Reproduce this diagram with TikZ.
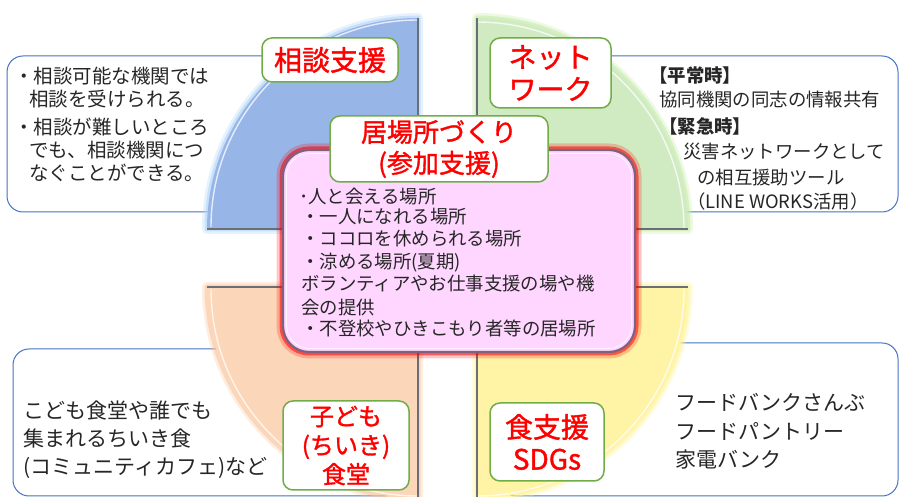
\documentclass[tikz,border=0pt]{standalone}
\usepackage{fontspec}
\setmainfont{Noto Sans CJK JP}
\newfontfamily\jpmed[FakeBold=1.4]{Noto Sans CJK JP}
\definecolor{qblue}{RGB}{152,181,232}
\definecolor{qgreen}{RGB}{208,235,194}
\definecolor{qorange}{RGB}{252,214,184}
\definecolor{qyellow}{RGB}{255,243,166}
\definecolor{gblue}{RGB}{175,212,250}
\definecolor{ggreen}{RGB}{196,236,165}
\definecolor{gorange}{RGB}{252,196,156}
\definecolor{gyellow}{RGB}{255,245,150}
\definecolor{pinkf}{RGB}{255,214,255}
\definecolor{bborder}{RGB}{68,114,196}
\definecolor{gborder}{RGB}{112,173,71}
\definecolor{txt}{RGB}{38,38,38}
\definecolor{bevel}{RGB}{105,110,120}
\tikzset{
  tbox/.style={draw=bborder, line width=1pt, fill=white, rounded corners=16pt},
  lab/.style={draw=gborder, line width=1.5pt, fill=white, rounded corners=10pt,
    inner sep=0pt, text=red, align=center},
  tl/.style={anchor=base west, inner sep=0pt, text=txt},
  glowa/.style={line width=10pt, opacity=0.3, line join=round},
  glowb/.style={line width=5pt, opacity=0.55, line join=round},
  edge/.style={draw=bevel, line width=1.6pt},
  hilite/.style={draw=white, line width=1.4pt, opacity=0.75},
}
\newcommand\fa{\fontsize{19.5pt}{23pt}\selectfont}
\newcommand\fb{\fontsize{18.4pt}{22pt}\selectfont}
\newcommand\fc{\fontsize{21pt}{28pt}\selectfont}
\begin{document}
\begin{tikzpicture}[x=1pt,y=1pt]
\useasboundingbox (0,0) rectangle (899,497);
\fill[white] (0,0) rectangle (899,497);

% outer text boxes
\draw[tbox] (7,285) rectangle (400,441);
\draw[tbox] (500,285) rectangle (898,441);
\draw[tbox] (13,1) rectangle (400,148);
\draw[tbox] (500,1) rectangle (898,154);

% blue quarter (upper left)
\draw[glowa, draw=gblue] (418,268) -- (207,268) arc[start angle=180,end angle=90,radius=211] -- cycle;
\draw[glowb, draw=gblue] (418,268) -- (207,268) arc[start angle=180,end angle=90,radius=211] -- cycle;
\fill[qblue] (418,268) -- (207,268) arc[start angle=180,end angle=90,radius=211] -- cycle;
\draw[hilite] (211,270) arc[start angle=180,end angle=90,radius=207];
\draw[edge] (207,268) -- (418,268) -- (418,479);

% green quarter (upper right)
\draw[glowa, draw=ggreen] (477,268) -- (477,479) arc[start angle=90,end angle=0,radius=211] -- cycle;
\draw[glowb, draw=ggreen] (477,268) -- (477,479) arc[start angle=90,end angle=0,radius=211] -- cycle;
\fill[qgreen] (477,268) -- (477,479) arc[start angle=90,end angle=0,radius=211] -- cycle;
\draw[hilite] (477,475) arc[start angle=90,end angle=0,radius=207];
\draw[edge] (477,479) -- (477,268) -- (688,268);

% orange quarter (lower left)
\draw[glowa, draw=gorange] (418,210) -- (207,210) arc[start angle=180,end angle=270,radius=211] -- cycle;
\draw[glowb, draw=gorange] (418,210) -- (207,210) arc[start angle=180,end angle=270,radius=211] -- cycle;
\fill[qorange] (418,210) -- (207,210) arc[start angle=180,end angle=270,radius=211] -- cycle;
\draw[hilite] (211,208) arc[start angle=180,end angle=270,radius=207];
\draw[edge] (207,210) -- (418,210) -- (418,-1);

% yellow quarter (lower right)
\draw[glowa, draw=gyellow] (477,210) -- (688,210) arc[start angle=0,end angle=-90,radius=211] -- cycle;
\draw[glowb, draw=gyellow] (477,210) -- (688,210) arc[start angle=0,end angle=-90,radius=211] -- cycle;
\fill[qyellow] (477,210) -- (688,210) arc[start angle=0,end angle=-90,radius=211] -- cycle;
\draw[hilite] (684,208) arc[start angle=0,end angle=-90,radius=207];
\draw[edge] (477,-1) -- (477,210) -- (688,210);

% centre box
\node[minimum width=352pt, minimum height=202pt, rounded corners=26pt, inner sep=0pt,
  preaction={draw=red, line width=13pt, opacity=0.22},
  preaction={draw=red, line width=7pt, opacity=0.55},
  fill=pinkf, draw=gray!75!violet, line width=2.2pt] (centre) at (459,246) {};
\draw[white, line width=0.8pt, opacity=0.8, rounded corners=23pt] (286.5,148.5) rectangle (631.5,343.5);

% labels
\node[lab, minimum width=136pt, minimum height=44pt, font=\fontsize{28pt}{32pt}\selectfont\jpmed] (soudan) at (330,437) {相談支援};
\node[lab, minimum width=121pt, minimum height=70pt, font=\fontsize{28pt}{32pt}\selectfont\jpmed] (network) at (550.5,424) {ネット\\ワーク};
\node[lab, minimum width=218pt, minimum height=66pt, font=\fontsize{26pt}{31pt}\selectfont\jpmed] (ibasho) at (439,348) {居場所づくり\\(参加支援)};
\node[lab, minimum width=126pt, minimum height=89pt, font=\fontsize{24pt}{29pt}\selectfont\jpmed] (kodomo) at (346,51.5) {子ども\\(ちいき)\\食堂};
\node[lab, minimum width=114pt, minimum height=78pt, font=\fontsize{28pt}{32pt}\selectfont\jpmed] (shoku) at (547,55) {食支援\\SDGs};

% top-left text
\node[tl, font=\fa] (a1) at (14,413) {・相談可能な機関では};
\node[tl, font=\fa] (a2) at (29,390.4) {相談を受けられる。};
\node[tl, font=\fa] (a3) at (14,362.4) {・相談が難しいところ};
\node[tl, font=\fa] (a4) at (29,339.4) {でも、相談機関につ};
\node[tl, font=\fa] (a5) at (29,316.4) {なぐことができる。};

% top-right text
\node[tl, font=\fb\bfseries] (b1) at (649,414) {【平常時】};
\node[tl, font=\fb] (b2) at (659,390) {協同機関の同志の情報共有};
\node[tl, font=\fb\bfseries] (b3) at (659,363) {【緊急時】};
\node[tl, font=\fb] (b4) at (683,338) {災害ネットワークとして};
\node[tl, font=\fb] (b5) at (697,312) {の相互援助ツール};
\node[tl, font=\fb] (b6) at (687,288) {（LINE WORKS活用）};

% bottom-left text
\node[tl, font=\fc] (c1) at (23,78) {こども食堂や誰でも};
\node[tl, font=\fc] (c2) at (23,50) {集まれるちいき食};
\node[tl, font=\fc] (c3) at (23,22) {(コミュニティカフェ)など};

% bottom-right text
\node[tl, font=\fc] (d1) at (675,86) {フードバンクさんぶ};
\node[tl, font=\fc] (d2) at (675,57) {フードパントリー};
\node[tl, font=\fc] (d3) at (675,29) {家電バンク};

% centre text
\node[tl, font=\fb] (e1) at (299,293) {･人と会える場所};
\node[tl, font=\fb] (e2) at (301,273) {・一人になれる場所};
\node[tl, font=\fb] (e3) at (301,251) {・ココロを休められる場所};
\node[tl, font=\fb] (e4) at (301,228) {・涼める場所(夏期)};
\node[tl, font=\fb] (e5) at (301,206) {ボランティアやお仕事支援の場や機};
\node[tl, font=\fb] (e6) at (301,182) {会の提供};
\node[tl, font=\fb] (e7) at (301,161) {・不登校やひきこもり者等の居場所};
\end{tikzpicture}
\end{document}
